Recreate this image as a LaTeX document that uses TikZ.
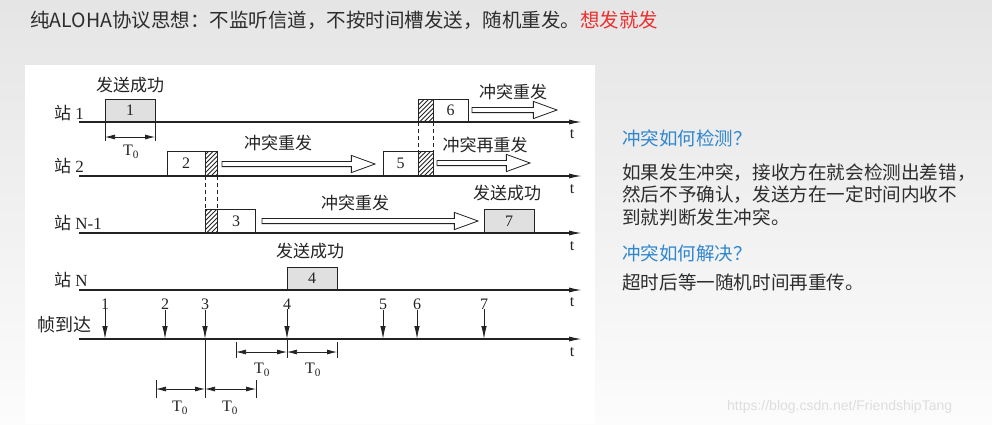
\documentclass[tikz,border=0pt]{standalone}
\usepackage{fontspec}
\setmainfont{Liberation Serif}
\newfontfamily\cjk{Noto Sans CJK SC}
\newfontfamily\wmfont{Liberation Sans}
\usetikzlibrary{arrows.meta,shapes.arrows}
\definecolor{bgtop}{RGB}{229,229,229}
\definecolor{bgbot}{RGB}{252,252,252}
\definecolor{ink}{RGB}{35,35,35}
\definecolor{boxgray}{RGB}{224,224,224}
\definecolor{titleblue}{RGB}{46,134,206}
\definecolor{hdrred}{RGB}{236,48,48}
\definecolor{txt}{RGB}{45,45,45}
\definecolor{wmgray}{RGB}{222,222,222}
\newcommand\hatchrect[4]{%
  \begin{scope}
    \clip (#1,#2) rectangle (#3,#4);
    \foreach \k in {-30,-25.5,...,30}{\draw[draw=ink, line width=0.75pt] (#1+\k,#4) -- ++(30,-30);}
  \end{scope}
  \draw[draw=ink, line width=0.9pt] (#1,#2) rectangle (#3,#4);}
\begin{document}
\begin{tikzpicture}[x=1pt,y=-1pt,
  axis/.style={draw=ink, line width=1.3pt, -{Latex[length=13pt,width=5pt]}},
  boxw/.style={draw=ink, line width=0.9pt, fill=white, inner sep=0pt, outer sep=0pt,
    anchor=south west, font=\fontsize{16}{16}\selectfont, text=ink},
  boxg/.style={boxw, fill=boxgray},
  hollow/.style={single arrow, draw=ink, fill=white, line width=0.8pt, inner xsep=0pt,
    inner ysep=2.2pt, single arrow head extend=6pt, single arrow tip angle=40,
    anchor=tail, outer sep=0pt},
  cjklbl/.style={font=\cjk\fontsize{17}{17}\selectfont, text=ink, inner sep=0pt},
  stlbl/.style={font=\fontsize{17}{17}\selectfont, text=ink, inner sep=0pt, anchor=west},
  tlbl/.style={font=\fontsize{16}{16}\selectfont, text=ink, inner sep=0pt},
  dim/.style={draw=ink, line width=0.75pt, {Latex[length=10pt,width=5pt]}-{Latex[length=10pt,width=5pt]}},
  tickl/.style={draw=ink, line width=0.75pt},
  dashv/.style={draw=ink, line width=0.8pt, dash pattern=on 4pt off 3pt},
  arrv/.style={draw=ink, line width=0.9pt, -{Latex[length=13pt,width=5.5pt]}},
  rtitle/.style={font=\cjk\fontsize{18.5}{18.5}\selectfont, text=titleblue, inner sep=0pt, anchor=base west},
  rbody/.style={font=\cjk\fontsize{18.6}{18.6}\selectfont, text=txt, inner sep=0pt, anchor=base west},
]
\useasboundingbox (0,0) rectangle (992,424);
% background
\shade[top color=bgtop, bottom color=bgbot] (0,0) rectangle (992,424);
\fill[white] (25,65) rectangle (595,424);

% header
\node[anchor=base west, font=\cjk\fontsize{19.5}{19.5}\selectfont, text=txt, inner sep=0pt] (hdr) at (30,27)
  {纯ALOHA协议思想：不监听信道，不按时间槽发送，随机重发。\textcolor{hdrred}{想发就发}};

% axes coordinates
\coordinate (a1s) at (79,122); \coordinate (a1e) at (582,122);
\coordinate (a2s) at (79,176); \coordinate (a2e) at (582,176);
\coordinate (a3s) at (79,233); \coordinate (a3e) at (582,233);
\coordinate (a4s) at (79,290); \coordinate (a4e) at (582,290);
\coordinate (a5s) at (79,339); \coordinate (a5e) at (582,339);

% station labels
\node[stlbl] (st1) at (54,113) {{\cjk 站} 1};
\node[stlbl] (st2) at (54,166) {{\cjk 站} 2};
\node[stlbl] (st3) at (54,223) {{\cjk 站} N-1};
\node[stlbl] (st4) at (54,280) {{\cjk 站} N};
\node[cjklbl, font=\cjk\fontsize{18}{18}\selectfont] (arr) at (64,325) {帧到达};

% boxes
\node[boxg, minimum width=50pt, minimum height=23pt] (b1) at (105,122) {1};
\node[boxw, minimum width=38pt, minimum height=25pt] (b2) at (167,176) {2};
\hatchrect{205}{151}{217}{176}
\hatchrect{205}{209}{217}{233}
\node[boxw, minimum width=38pt, minimum height=24pt] (b3) at (217,233) {3};
\node[boxg, minimum width=50pt, minimum height=23pt] (b4) at (287,290) {4};
\node[boxw, minimum width=35pt, minimum height=25pt] (b5) at (383,176) {5};
\hatchrect{418}{151}{433}{176}
\hatchrect{418}{99}{433}{122}
\node[boxw, minimum width=35pt, minimum height=23pt] (b6) at (433,122) {6};
\node[boxg, minimum width=50pt, minimum height=24pt] (b7) at (484,233) {7};

% dashed collision guides
\coordinate (c2a) at (205,176); \coordinate (c2b) at (217,176);
\coordinate (c3a) at (205,209); \coordinate (c3b) at (217,209);
\draw[dashv] (c2a) -- (c3a);
\draw[dashv] (c2b) -- (c3b);
\coordinate (c6a) at (418,122); \coordinate (c6b) at (433,122);
\coordinate (c5a) at (418,151); \coordinate (c5b) at (433,151);
\draw[dashv] (c6a) -- (c5a);
\draw[dashv] (c6b) -- (c5b);

% axes
\draw[axis] (a1s) -- (a1e);
\draw[axis] (a2s) -- (a2e);
\draw[axis] (a3s) -- (a3e);
\draw[axis] (a4s) -- (a4e);
\draw[axis] (a5s) -- (a5e);
\node[tlbl] (t1) at (572,134) {t};
\node[tlbl] (t2) at (572,189) {t};
\node[tlbl] (t3) at (572,246) {t};
\node[tlbl] (t4) at (572,302) {t};
\node[tlbl] (t5) at (572,352) {t};

% hollow retransmission arrows
\node[hollow, minimum height=153pt] (h2) at (222,164) {};
\node[hollow, minimum height=85pt] (h6) at (472,110) {};
\node[hollow, minimum height=93pt] (h5) at (437,163) {};
\node[hollow, minimum height=216pt] (h3) at (262,221) {};

% texts
\node[cjklbl] (l1) at (130,85) {发送成功};
\node[cjklbl] (l2) at (278,143) {冲突重发};
\node[cjklbl] (l6) at (513,92) {冲突重发};
\node[cjklbl] (l5) at (485,145) {冲突再重发};
\node[cjklbl] (l3) at (355,203) {冲突重发};
\node[cjklbl] (l7) at (507,193) {发送成功};
\node[cjklbl] (l4) at (310,251) {发送成功};

% T0 under box 1
\draw[tickl] (b1.south west) -- ++(0,19);
\draw[tickl] (b1.south east) -- ++(0,19);
\draw[dim] ([yshift=-15pt]b1.south west) -- ([yshift=-15pt]b1.south east);
\node[tlbl] (T1) at (131,152) {T\textsubscript{0}};

% frame arrivals
\foreach \n/\x in {1/105,2/165,3/205,4/287,5/383,6/417,7/484}{
  \node[tlbl] (n\n) at (\x,304) {\n};
  \draw[arrv] (n\n.south) -- (n\n.south |- a5s);
}

% T0 dimensions below
\coordinate (d1) at (236,352); \coordinate (d2) at (287,352); \coordinate (d3) at (337,352);
\draw[tickl] (236,342) -- (236,358);
\draw[tickl] (287,340) -- (287,358);
\draw[tickl] (337,342) -- (337,358);
\draw[dim] (d1) -- (d2);
\draw[dim] (d2) -- (d3);
\node[tlbl] (T2) at (262,370) {T\textsubscript{0}};
\node[tlbl] (T3) at (313,370) {T\textsubscript{0}};

\coordinate (e1) at (156,389); \coordinate (e2) at (205,389); \coordinate (e3) at (256,389);
\draw[tickl] (n3.south |- a5s) -- (205,398);
\draw[tickl] (156,380) -- (156,398);
\draw[tickl] (256,380) -- (256,398);
\draw[dim] (e1) -- (e2);
\draw[dim] (e2) -- (e3);
\node[tlbl] (T4) at (180,408) {T\textsubscript{0}};
\node[tlbl] (T5) at (230,408) {T\textsubscript{0}};

% right-hand explanation
\node[rtitle] (q1) at (622,145) {冲突如何检测？};
\node[rbody] (p1) at (622,179) {如果发生冲突，接收方在就会检测出差错，};
\node[rbody] (p2) at (622,201) {然后不予确认，发送方在一定时间内收不};
\node[rbody] (p3) at (622,224) {到就判断发生冲突。};
\node[rtitle] (q2) at (622,260) {冲突如何解决？};
\node[rbody] (p4) at (622,289) {超时后等一随机时间再重传。};

% watermark
\node[anchor=base west, font=\wmfont\fontsize{14}{14}\selectfont, text=wmgray, inner sep=0pt] (wm) at (727,410)
  {https://blog.csdn.net/FriendshipTang};
\end{tikzpicture}
\end{document}
